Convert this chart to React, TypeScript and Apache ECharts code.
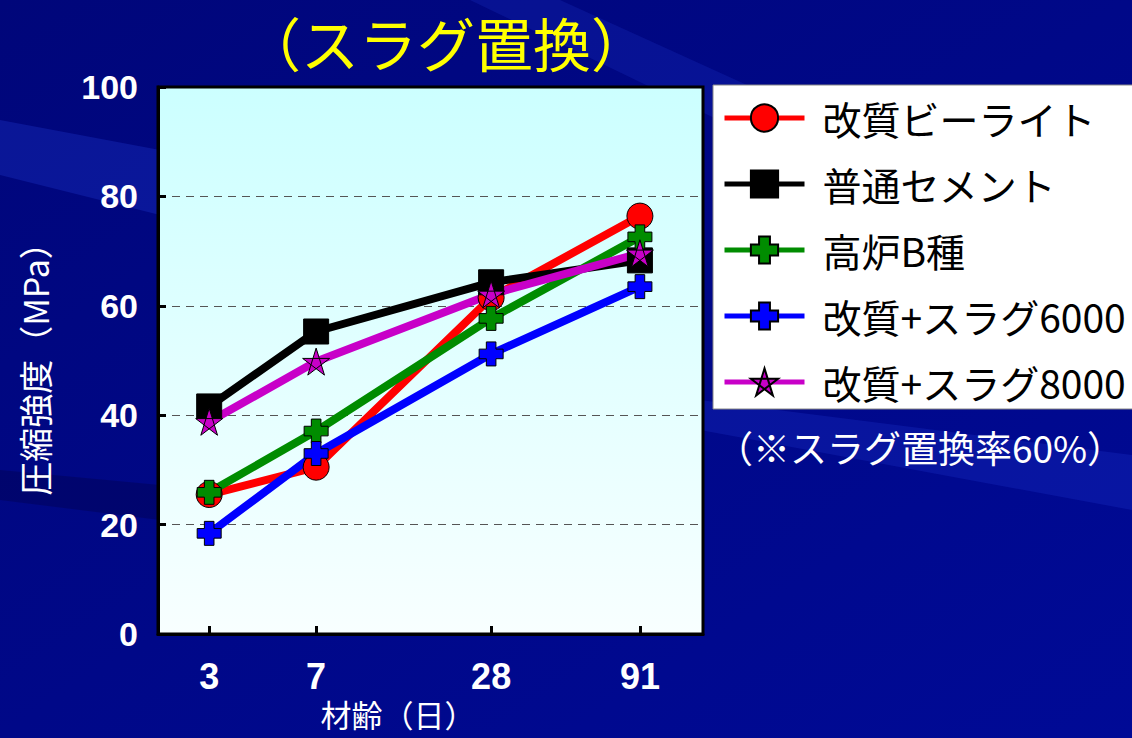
import React, { useEffect, useRef } from "react";
import * as echarts from "echarts";

const days = [3, 7, 28, 91];
const seriesNames = ["改質ビーライト", "普通セメント", "高炉B種", "改質+スラグ6000", "改質+スラグ8000"];
const belite = [25.5, 30.5, 61.5, 76.4];
const ordinary = [41.6, 55.3, 64.3, 68.3];
const blastB = [25.9, 37.1, 57.7, 72.6];
const slag6000 = [18.4, 33.0, 51.2, 63.5];
const slag8000 = [38.8, 49.8, 62.1, 69.6];
const yTicks = [0, 20, 40, 60, 80, 100];

const colors = ["#ff0000", "#000000", "#008c00", "#0000ff", "#c800c8"];
const CROSS = "path://M3,0H7V3H10V7H7V10H3V7H0V3H3Z";
const STAR = "path://M100,0L158.8,180.9L4.9,69.1L195.1,69.1L41.2,180.9Z";
const symbols = ["circle", "rect", CROSS, CROSS, STAR];
const symbolSizes = [26, 25, 24, 24, 27];

export default function App() {
  const ref = useRef<HTMLDivElement>(null);
  useEffect(() => {
    document.body.style.margin = "0";
    const chart = echarts.init(ref.current!, undefined, { renderer: "svg" });
    const values = [belite, ordinary, blastB, slag6000, slag8000];
    const series = values.map((vals, i) => ({
      name: seriesNames[i],
      type: "line",
      data: days.map((d, j) => [d, vals[j]]),
      symbol: symbols[i],
      symbolSize: symbolSizes[i],
      lineStyle: { color: colors[i], width: 8 },
      itemStyle: { color: colors[i], borderColor: "#000", borderWidth: 1 },
      emphasis: { disabled: true },
      clip: false,
    }));
    chart.setOption({
      animation: false,
      textStyle: { fontFamily: "Noto Sans CJK JP" },
      graphic: [
        {
          type: "rect",
          z: -20,
          silent: true,
          shape: { x: 0, y: 0, width: 1132, height: 738 },
          style: {
            fill: new echarts.graphic.LinearGradient(0, 0, 1, 1, [
              { offset: 0, color: "#00067a" },
              { offset: 1, color: "#000a96" },
            ]),
          },
        },
        {
          type: "polygon",
          z: -19,
          silent: true,
          shape: { points: [[0, 120], [160, 150], [160, 215], [0, 175]] },
          style: { fill: "rgba(40,70,230,0.25)" },
        },
        {
          type: "polygon",
          z: -19,
          silent: true,
          shape: { points: [[470, 0], [560, 0], [1132, 260], [1132, 320]] },
          style: { fill: "rgba(40,70,230,0.18)" },
        },
        {
          type: "polygon",
          z: -19,
          silent: true,
          shape: { points: [[700, 400], [1132, 455], [1132, 510], [700, 430]] },
          style: { fill: "rgba(40,70,230,0.2)" },
        },
        {
          type: "polygon",
          z: -19,
          silent: true,
          shape: { points: [[0, 470], [160, 485], [160, 520], [0, 500]] },
          style: { fill: "rgba(0,0,60,0.3)" },
        },
        {
          type: "text",
          x: 446,
          y: 42,
          style: {
            text: "（スラグ置換）",
            fill: "#ffff00",
            fontSize: 58,
            fontFamily: "Noto Sans CJK JP",
            align: "center",
            verticalAlign: "middle",
          },
        },
        {
          type: "text",
          x: 920,
          y: 447,
          style: {
            text: "（※スラグ置換率60%）",
            fill: "#ffffff",
            fontSize: 37,
            fontFamily: "Noto Sans CJK JP",
            align: "center",
            verticalAlign: "middle",
          },
        },
        {
          type: "text",
          x: 398,
          y: 713,
          style: {
            text: "材齢（日）",
            fill: "#ffffff",
            fontSize: 31,
            fontFamily: "Noto Sans CJK JP",
            align: "center",
            verticalAlign: "middle",
          },
        },
      ],
      grid: {
        left: 158,
        top: 87,
        width: 545,
        height: 547,
        show: true,
        borderColor: "#000",
        borderWidth: 3,
        backgroundColor: new echarts.graphic.LinearGradient(0, 0, 0, 1, [
          { offset: 0, color: "#ccffff" },
          { offset: 1, color: "#f8ffff" },
        ]),
      },
      legend: {
        orient: "vertical",
        left: 713,
        top: 85,
        backgroundColor: "#ffffff",
        borderColor: "#888",
        borderWidth: 1,
        padding: [13, 40, 7, 9],
        itemWidth: 80,
        itemHeight: 34,
        itemGap: 26,
        lineStyle: { width: 5 },
        textStyle: {
          fontSize: 39,
          color: "#000",
          fontFamily: "Noto Sans CJK JP",
          padding: [0, 0, 0, 13],
          lineHeight: 40,
        },
        data: seriesNames,
      },
      xAxis: {
        type: "log",
        logBase: 10,
        min: 2,
        max: 150,
        axisLine: { show: true, lineStyle: { color: "#000", width: 3 } },
        axisTick: { show: true, inside: true, length: 8, customValues: days, lineStyle: { color: "#000", width: 3 } },
        axisLabel: {
          customValues: days,
          color: "#fff",
          fontSize: 36,
          fontWeight: "bold",
          fontFamily: "Liberation Sans Narrow, Liberation Sans",
          margin: 24,
          formatter: (v: number) => String(Math.round(v)),
        },
        splitLine: { show: false },
        minorTick: { show: false },
      },
      yAxis: {
        type: "value",
        min: 0,
        max: 100,
        interval: 20,
        name: "圧縮強度（MPa）",
        nameLocation: "middle",
        nameRotate: 90,
        nameGap: 107,
        nameTextStyle: { color: "#fff", fontSize: 34, fontFamily: "Noto Sans CJK JP" },
        axisLine: { show: true, lineStyle: { color: "#000", width: 3 } },
        axisTick: { show: true, inside: true, length: 8, lineStyle: { color: "#000", width: 3 } },
        axisLabel: {
          color: "#fff",
          fontSize: 34,
          fontWeight: "bold",
          fontFamily: "Liberation Sans",
          margin: 20,
          customValues: yTicks,
        },
        splitLine: { show: true, showMinLine: false, showMaxLine: false, lineStyle: { color: "#555", type: [8, 6], width: 1.2 } },
      },
      series,
    });
    return () => chart.dispose();
  }, []);
  return <div ref={ref} style={{ width: 1132, height: 738 }} />;
}
